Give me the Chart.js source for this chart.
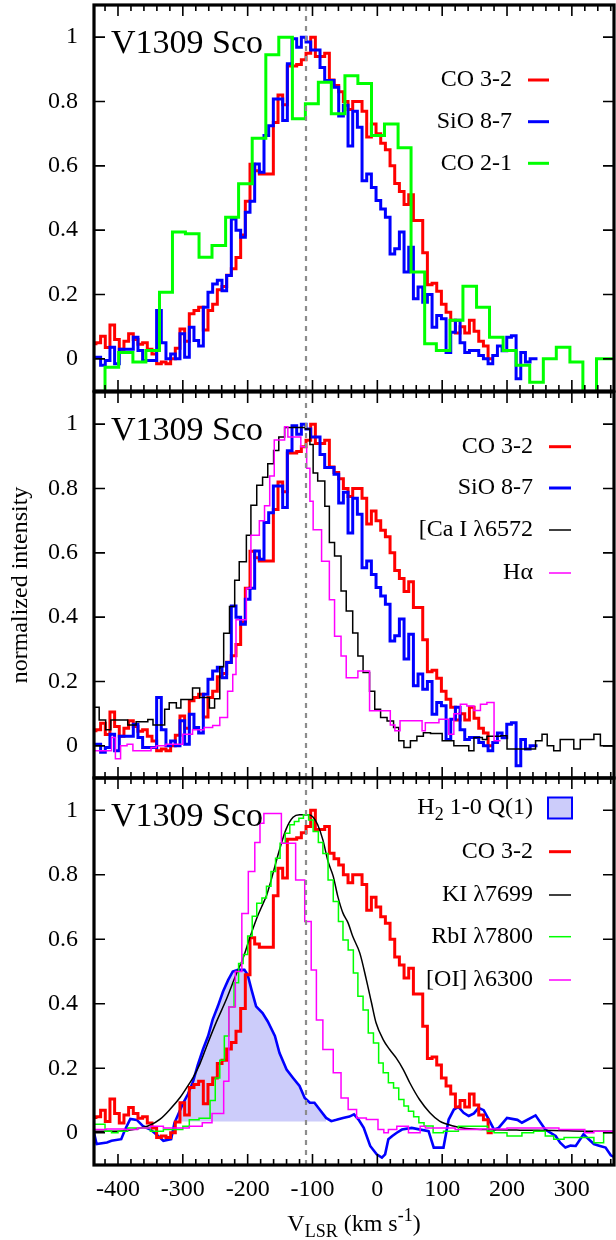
<!DOCTYPE html>
<html>
<head>
<meta charset="utf-8">
<script src="https://cdn.jsdelivr.net/npm/chart.js@4.4.1/dist/chart.umd.min.js"></script>
<style>
html,body{margin:0;padding:0;background:#ffffff;}
#wrap{position:relative;width:616px;height:1240px;overflow:hidden;background:#fff;}
#wrap canvas{position:absolute;left:0;}
</style>
</head>
<body>
<div id="wrap">
<canvas id="p1" width="616" height="396" style="top:0px;width:616px;height:396px"></canvas>
<canvas id="p2" width="616" height="396" style="top:387px;width:616px;height:396px"></canvas>
<canvas id="p3" width="616" height="467" style="top:773px;width:616px;height:467px"></canvas>
</div>
<script>
// ---------------- axes / labels ----------------
const vRange = [-437, 365];
const iRange = [-0.1, 1.1];
const xTickVals = [-400, -300, -200, -100, 0, 100, 200, 300];
const xTickLabels = ['-400', '-300', '-200', '-100', '0', '100', '200', '300'];
const yTickVals = [0, 0.2, 0.4, 0.6, 0.8, 1];
const yTickLabels = ['0', '0.2', '0.4', '0.6', '0.8', '1'];
const systemicV = [-110];
const targetName = 'V1309 Sco';
const yAxisTitle = 'normalized intensity';
const xTitleParts = ['V', 'LSR', ' (km s', '-1', ')'];
const panel1Names = ['CO 3-2', 'SiO 8-7', 'CO 2-1'];
const panel2Names = ['CO 3-2', 'SiO 8-7', '[Ca I \u03bb6572', 'H\u03b1'];
const panel3Names = [['H', '2', ' 1-0 Q(1)'], 'CO 3-2', 'KI \u03bb7699', 'RbI \u03bb7800', '[OI] \u03bb6300'];
const h2Base = [0.035];
const h2FillRange = [-310, -75];

// ---------------- series: [velocity (left bin edge or sample), normalized intensity] ----------------
const co32 = [[-441.2,0.04],[-434,0.047],[-426.8,0.05],[-419.6,0.07],[-412.4,0.035],[-405.2,0.105],[-398,0.06],[-390.8,0.03],[-383.6,0.055],[-376.4,0.078],[-369.2,0.06],[-362,0.045],[-354.8,0.05],[-347.6,0.03],[-340.4,0.015],[-333.2,-0.015],[-326,-0.01],[-318.8,-0.015],[-311.6,0.0],[-304.4,0.033],[-297.2,0.093],[-290,0.055],[-282.8,0.14],[-275.6,0.15],[-268.4,0.16],[-261.2,0.09],[-254,0.15],[-246.8,0.17],[-239.6,0.215],[-232.4,0.225],[-225.2,0.26],[-218,0.28],[-210.8,0.315],[-203.6,0.385],[-196.4,0.49],[-189.2,0.605],[-182,0.585],[-174.8,0.575],[-167.6,0.575],[-160.4,0.575],[-153.2,0.735],[-146,0.82],[-138.8,0.79],[-131.6,0.91],[-124.4,0.91],[-117.2,0.915],[-110,0.93],[-102.8,0.95],[-95.6,1.0],[-88.4,0.94],[-81.2,0.94],[-74,0.95],[-66.8,0.867],[-59.6,0.85],[-52.4,0.83],[-45.2,0.80],[-38,0.775],[-30.8,0.80],[-23.6,0.80],[-16.4,0.77],[-9.2,0.69],[-2,0.73],[5.2,0.70],[12.4,0.67],[19.6,0.65],[26.8,0.60],[34,0.545],[41.2,0.52],[48.4,0.48],[55.6,0.51],[62.8,0.43],[70,0.43],[77.2,0.33],[84.4,0.23],[91.6,0.235],[98.8,0.21],[106,0.17],[113.2,0.145],[120.4,0.12],[127.6,0.08],[134.8,0.10],[142,0.08],[149.2,0.12],[156.4,0.086],[163.6,0.055],[170.8,0.04],[178,0.0]];

const sio87 = [[-441.2,0.04],[-434,0.005],[-426.8,0.005],[-419.6,-0.02],[-412.4,-0.005],[-405.2,0.036],[-398,-0.015],[-390.8,0.03],[-383.6,0.03],[-376.4,0.03],[-369.2,0.067],[-362,0.026],[-354.8,-0.005],[-347.6,-0.005],[-340.4,-0.005],[-333.2,0.15],[-326,0.05],[-318.8,0.0],[-311.6,0.015],[-304.4,0.0],[-297.2,0.078],[-290,0.005],[-282.8,0.098],[-275.6,0.057],[-268.4,0.04],[-261.2,0.16],[-254,0.207],[-246.8,0.233],[-239.6,0.244],[-232.4,0.212],[-225.2,0.259],[-218,0.435],[-210.8,0.40],[-203.6,0.378],[-196.4,0.456],[-189.2,0.49],[-182,0.606],[-174.8,0.58],[-167.6,0.694],[-160.4,0.725],[-153.2,0.808],[-146,0.808],[-138.8,0.741],[-131.6,0.917],[-124.4,0.995],[-117.2,0.969],[-110,1.0],[-102.8,0.985],[-95.6,0.96],[-88.4,0.96],[-81.2,0.906],[-74,0.865],[-66.8,0.865],[-59.6,0.844],[-52.4,0.755],[-45.2,0.788],[-38,0.662],[-30.8,0.77],[-23.6,0.72],[-16.4,0.554],[-9.2,0.575],[-2,0.533],[5.2,0.492],[12.4,0.466],[19.6,0.44],[26.8,0.326],[34,0.342],[41.2,0.394],[48.4,0.27],[55.6,0.347],[62.8,0.187],[70,0.223],[77.2,0.176],[84.4,0.2],[91.6,0.098],[98.8,0.135],[106,0.125],[113.2,0.02],[120.4,0.083],[127.6,0.12],[134.8,0.05],[142,0.02],[149.2,0.026],[156.4,0.026],[163.6,0.01],[170.8,0.0],[178,-0.015],[185.2,0.01],[192.4,0.04],[199.6,0.025],[206.8,0.067],[214,0.072],[221.2,-0.062],[228.4,0.02],[235.6,-0.01],[242.8,0.0],[247,0.0]];

const co21 = [[-420,-0.3],[-399,-0.026],[-377,0.02],[-357,-0.01],[-336,0.026],[-316,0.207],[-296,0.394],[-275,0.389],[-255,0.316],[-234,0.352],[-214,0.44],[-193,0.544],[-172,0.686],[-152,0.945],[-131,1.0],[-111,0.746],[-91,0.793],[-71,0.86],[-50,0.762],[-30,0.88],[-9,0.856],[11,0.694],[32,0.73],[52,0.656],[73,0.27],[91,0.047],[112,0.026],[132,0.12],[153,0.226],[173,0.16],[194,0.067],[214,0.026],[235,-0.02],[256,-0.073],[276,0.0],[297,0.036],[317,-0.01],[338,-0.3],[357,0.0],[380,0.0]];

const caI6572 = [[-438,0.166],[-429,0.12],[-419,0.08],[-411,0.05],[-385,0.08],[-372,0.065],[-354,0.075],[-346,0.082],[-328,0.065],[-321,0.114],[-310,0.134],[-303,0.118],[-285,0.144],[-274,0.18],[-259,0.15],[-251,0.118],[-243,0.146],[-237,0.246],[-228,0.35],[-220,0.433],[-213,0.515],[-202,0.572],[-195,0.655],[-186,0.748],[-177,0.81],[-169,0.835],[-160,0.877],[-152,0.918],[-143,0.96],[-136,0.99],[-111,0.99],[-104,0.985],[-99,0.937],[-92,0.848],[-81,0.823],[-74,0.745],[-66,0.632],[-56,0.59],[-48,0.481],[-38,0.419],[-30,0.351],[-22,0.279],[-12,0.228],[-4,0.17],[5,0.114],[15,0.088],[25,0.077],[33,0.057],[41,0.016],[51,-0.005],[61,0.016],[71,0.03],[82,0.041],[100,0.038],[118,0.016],[141,0.0],[149,-0.015],[162,0.026],[169,0.02],[190,0.03],[200,0.031],[216,-0.01],[244,-0.01],[254,0.016],[262,0.036],[272,0.0],[282,-0.015],[303,0.02],[313,-0.01],[334,0.02],[344,0.036],[362,0.0],[366,0.0]];

const hAlpha = [[-438,-0.02],[-410,-0.015],[-404,0.026],[-396,-0.04],[-386,0.0],[-377,0.005],[-349,-0.015],[-341,-0.005],[-326,0.0],[-300,0.005],[-285,0.036],[-267,0.05],[-254,0.057],[-243,0.063],[-231,0.088],[-223,0.17],[-218,0.222],[-202,0.392],[-195,0.49],[-182,0.655],[-174,0.70],[-166,0.746],[-159,0.839],[-143,0.951],[-138,0.992],[-118,0.96],[-109,0.93],[-104,0.863],[-99,0.76],[-86,0.672],[-74,0.574],[-66,0.454],[-56,0.341],[-48,0.279],[-30,0.212],[-12,0.233],[20,0.109],[27,0.065],[35,0.047],[69,0.078],[74,0.047],[95,0.072],[110,0.083],[118,0.036],[128,0.1],[138,0.129],[149,0.124],[159,0.11],[169,0.129],[180,0.135],[190,0.016]];

const h2Q1 = [[-437,0.0],[-433,-0.035],[-417,-0.03],[-410,-0.025],[-395,-0.02],[-389,0.01],[-381,0.043],[-371,0.04],[-361,0.02],[-350,0.01],[-338,-0.01],[-330,-0.025],[-318,-0.02],[-313,0.03],[-308,0.053],[-300,0.09],[-292,0.12],[-284,0.16],[-277,0.21],[-269,0.258],[-261,0.30],[-254,0.351],[-246,0.392],[-238,0.438],[-230,0.474],[-223,0.50],[-215,0.505],[-205,0.505],[-200,0.49],[-194,0.443],[-187,0.392],[-177,0.371],[-169,0.345],[-158,0.30],[-151,0.248],[-140,0.196],[-130,0.17],[-120,0.145],[-112,0.108],[-104,0.093],[-97,0.093],[-89,0.072],[-79,0.046],[-71,0.036],[-63,0.04],[-53,0.046],[-43,0.05],[-36,0.057],[-29,0.041],[-21,0.015],[-11,-0.041],[-1,-0.067],[7,-0.077],[12,-0.067],[17,-0.02],[23,-0.01],[30,0.0],[38,0.01],[53,0.015],[79,0.005],[87,-0.046],[102,-0.046],[110,0.041],[118,0.072],[125,0.08],[133,0.062],[141,0.052],[149,0.06],[156,0.077],[164,0.07],[172,0.041],[180,0.01],[187,0.015],[200,0.046],[216,0.04],[223,0.031],[244,0.054],[259,0.01],[275,-0.01],[282,-0.031],[290,-0.046],[298,-0.04],[306,-0.041],[318,-0.005],[326,-0.02],[334,-0.035],[342,-0.04],[352,-0.046],[360,-0.07],[365,-0.075]];

const kI7699 = [[-437,0.005],[-400,0.005],[-376,0.01],[-350,0.024],[-335,0.042],[-320,0.072],[-304,0.11],[-294,0.14],[-284,0.172],[-274,0.212],[-261,0.28],[-249,0.34],[-233,0.413],[-218,0.49],[-207,0.542],[-197,0.603],[-187,0.66],[-176,0.712],[-171,0.735],[-151,0.877],[-141,0.94],[-130,0.978],[-120,0.986],[-105,0.986],[-99,0.978],[-92,0.955],[-84,0.908],[-76,0.841],[-68,0.795],[-61,0.733],[-53,0.681],[-45,0.65],[-38,0.609],[-27,0.557],[-17,0.475],[-9,0.403],[-2,0.341],[9,0.289],[19,0.258],[29,0.232],[40,0.196],[50,0.155],[65,0.103],[81,0.062],[96,0.036],[117,0.021],[137,0.013],[170,0.01],[220,0.008],[272,0.007],[324,0.005],[366,0.005]];

const rbI7800 = [[-438,0.01],[-420,0.026],[-410,0.005],[-400,0.0],[-385,0.005],[-350,0.015],[-330,0.005],[-300,0.01],[-290,0.02],[-275,0.04],[-258,0.045],[-250,0.1],[-243,0.17],[-236,0.225],[-229,0.3],[-221,0.39],[-214,0.465],[-207,0.525],[-200,0.553],[-193,0.61],[-186,0.671],[-178,0.712],[-171,0.728],[-164,0.764],[-157,0.81],[-150,0.851],[-142,0.898],[-135,0.929],[-128,0.955],[-121,0.965],[-114,0.975],[-106,0.986],[-99,0.97],[-91,0.934],[-84,0.9],[-76,0.866],[-68,0.784],[-60,0.717],[-53,0.655],[-45,0.598],[-37,0.567],[-30,0.495],[-22,0.423],[-14,0.381],[-6,0.309],[2,0.278],[9,0.216],[17,0.186],[25,0.155],[33,0.139],[41,0.103],[48,0.083],[56,0.067],[64,0.05],[72,0.031],[86,0.021],[102,0.0],[125,0.005],[170,0.02],[180,0.005],[200,0.0],[223,-0.01],[241,0.0],[259,0.005],[272,-0.01],[288,-0.02],[334,-0.015],[349,-0.031],[360,0.0],[366,0.0]];

const oI6300 = [[-438,0.02],[-418,0.01],[-390,0.012],[-370,0.01],[-350,0.015],[-330,0.02],[-310,0.015],[-290,0.015],[-270,0.02],[-255,0.031],[-237,0.06],[-229,0.16],[-219,0.39],[-209,0.5],[-199,0.68],[-189,0.81],[-181,0.9],[-175,0.96],[-168,0.99],[-148,0.99],[-126,0.898],[-112,0.784],[-102,0.655],[-94,0.505],[-84,0.35],[-68,0.258],[-56,0.186],[-45,0.108],[-32,0.072],[-17,0.046],[1,0.041],[10,0.01],[17,0.0],[30,0.01],[48,0.02],[66,0.0],[74,0.02],[87,0.015],[120,0.015],[160,0.01],[200,0.012],[240,0.015],[280,0.015],[320,0.01],[334,0.0],[350,0.005],[366,0.005]];

// ---------------- styles ----------------
const SERIF = "'Liberation Serif','Times New Roman',Times,serif";
const RED = '#ff0000', BLUE = '#0000ff', GREEN = '#00ff00', MAG = '#ff00ff', BLK = '#000000';
const H2FILL = 'rgb(204,204,250)';
const THICK = 3, THIN = 1.5;

Chart.defaults.font.family = SERIF;
Chart.defaults.color = '#000';

function pts(arr) { return arr.map(p => ({x: p[0], y: p[1]})); }
function stepDS(arr, color, width, order) {
  return {data: pts(arr), borderColor: color, borderWidth: width, stepped: 'after', pointRadius: 0, fill: false, order: order};
}
function lineDS(arr, color, width, order, smooth) {
  return {data: pts(arr), borderColor: color, borderWidth: width, pointRadius: 0, fill: false, order: order,
          tension: smooth ? 0.4 : 0, cubicInterpolationMode: smooth ? 'monotone' : 'default'};
}

// ---------------- decoration plugin (frame, inward ticks, labels, legend) ----------------
const xMinor = [];
for (let v = -420; v <= 360; v += 20) { if (xTickVals.indexOf(v) < 0) xMinor.push(v); }

function drawSubText(ctx, parts, xRight, y, size) {
  const small = Math.round(size * 0.75);
  ctx.font = size + 'px ' + SERIF;
  const w0 = ctx.measureText(parts[0]).width;
  const w2 = ctx.measureText(parts[2]).width;
  ctx.font = small + 'px ' + SERIF;
  const w1 = ctx.measureText(parts[1]).width;
  let x = xRight - (w0 + w1 + w2);
  ctx.textAlign = 'left';
  ctx.font = size + 'px ' + SERIF; ctx.fillText(parts[0], x, y); x += w0;
  ctx.font = small + 'px ' + SERIF; ctx.fillText(parts[1], x, y + 7); x += w1;
  ctx.font = size + 'px ' + SERIF; ctx.fillText(parts[2], x, y);
}

const decoPlugin = {
  id: 'deco',
  afterDatasetsDraw(chart) {
    const {ctx, chartArea: a, scales: {x}} = chart;
    ctx.save();
    ctx.beginPath(); ctx.rect(a.left, a.top, a.right - a.left, a.bottom - a.top); ctx.clip();
    ctx.strokeStyle = '#8c8c8c'; ctx.lineWidth = 2.2; ctx.setLineDash([5, 5]);
    systemicV.forEach(v => {
      const px = Math.round(x.getPixelForValue(v));
      ctx.beginPath(); ctx.moveTo(px, a.bottom); ctx.lineTo(px, a.top); ctx.stroke();
    });
    ctx.restore();
  },
  afterDraw(chart, args, o) {
    const {ctx, chartArea: a, scales: {x, y}} = chart;
    ctx.save();
    ctx.strokeStyle = '#000'; ctx.lineWidth = 1.6; ctx.setLineDash([]);
    ctx.beginPath();
    xMinor.forEach(v => {
      const px = x.getPixelForValue(v);
      if (px <= a.left || px >= a.right) return;
      ctx.moveTo(px, a.bottom); ctx.lineTo(px, a.bottom - 6);
      ctx.moveTo(px, a.top); ctx.lineTo(px, a.top + 6);
    });
    xTickVals.forEach(v => {
      const px = x.getPixelForValue(v);
      ctx.moveTo(px, a.bottom); ctx.lineTo(px, a.bottom - 11);
      ctx.moveTo(px, a.top); ctx.lineTo(px, a.top + 11);
    });
    yTickVals.forEach(v => {
      const py = y.getPixelForValue(v);
      ctx.moveTo(a.left, py); ctx.lineTo(a.left + 11, py);
      ctx.moveTo(a.right, py); ctx.lineTo(a.right - 11, py);
    });
    ctx.stroke();
    ctx.lineWidth = 3.2;
    ctx.strokeRect(a.left, a.top, a.right - a.left, a.bottom - a.top);
    ctx.fillStyle = '#000';
    ctx.font = '34px ' + SERIF; ctx.textAlign = 'left'; ctx.textBaseline = 'middle';
    ctx.fillText(targetName, a.left + 17, a.top + 39);
    const L = o.legend;
    ctx.textBaseline = 'middle';
    L.items.forEach((it, i) => {
      const ry = a.top + L.rows[i];
      ctx.fillStyle = '#000';
      if (Array.isArray(it.name)) {
        drawSubText(ctx, it.name, L.textRight, ry, 24);
      } else {
        ctx.font = '24px ' + SERIF; ctx.textAlign = 'right';
        ctx.fillText(it.name, L.textRight, ry);
      }
      if (it.box) {
        ctx.fillStyle = H2FILL;
        ctx.fillRect(L.sample[0] - 1, ry - 10.5, L.sample[1] - L.sample[0] + 2, 21);
        ctx.strokeStyle = it.color; ctx.lineWidth = 2;
        ctx.strokeRect(L.sample[0] - 1, ry - 10.5, L.sample[1] - L.sample[0] + 2, 21);
      } else {
        ctx.strokeStyle = it.color; ctx.lineWidth = it.width;
        ctx.beginPath(); ctx.moveTo(L.sample[0], ry); ctx.lineTo(L.sample[1], ry); ctx.stroke();
      }
    });
    if (o.xTitle) {
      const big = '24px ' + SERIF, small = '18px ' + SERIF;
      ctx.font = big; const w0 = ctx.measureText(xTitleParts[0]).width;
      const w2 = ctx.measureText(xTitleParts[2]).width;
      const w4 = ctx.measureText(xTitleParts[4]).width;
      ctx.font = small; const w1 = ctx.measureText(xTitleParts[1]).width;
      const w3 = ctx.measureText(xTitleParts[3]).width;
      const total = w0 + w1 + w2 + w3 + w4;
      let tx = (a.left + a.right) / 2 - total / 2;
      const base = a.bottom + 66;
      ctx.textAlign = 'left'; ctx.textBaseline = 'alphabetic'; ctx.fillStyle = '#000';
      ctx.font = big; ctx.fillText(xTitleParts[0], tx, base); tx += w0;
      ctx.font = small; ctx.fillText(xTitleParts[1], tx, base + 6); tx += w1;
      ctx.font = big; ctx.fillText(xTitleParts[2], tx, base); tx += w2;
      ctx.font = small; ctx.fillText(xTitleParts[3], tx, base - 10); tx += w3;
      ctx.font = big; ctx.fillText(xTitleParts[4], tx, base);
    }
    ctx.restore();
  }
};

function zeroPad(s) { s.paddingTop = 0; s.paddingBottom = 0; s.paddingLeft = 0; s.paddingRight = 0; }

function makeChart(id, datasets, deco, opts) {
  return new Chart(document.getElementById(id), {
    type: 'line',
    data: {datasets: datasets},
    options: {
      responsive: false, animation: false, devicePixelRatio: 1, events: [],
      layout: {padding: {top: 5, right: 2, bottom: opts.padBottom, left: 0}},
      plugins: {legend: {display: false}, tooltip: {enabled: false}, deco: deco},
      scales: {
        x: {
          type: 'linear', min: vRange[0], max: vRange[1], display: opts.showX,
          grid: {display: false, drawTicks: false}, border: {display: false},
          afterBuildTicks: s => { s.ticks = xTickVals.map(v => ({value: v})); },
          afterFit: s => { s.height = opts.xHeight; zeroPad(s); },
          ticks: {font: {size: 24, family: SERIF}, color: '#000', padding: 10, maxRotation: 0, minRotation: 0,
                  autoSkip: false, callback: (v, i) => xTickLabels[i]}
        },
        y: {
          type: 'linear', min: iRange[0], max: iRange[1],
          grid: {display: false, drawTicks: false}, border: {display: false},
          afterBuildTicks: s => { s.ticks = yTickVals.map(v => ({value: v})); },
          afterFit: s => { s.width = 94; zeroPad(s); },
          ticks: {font: {size: 24, family: SERIF}, color: '#000', padding: 16, callback: (v, i) => yTickLabels[i]},
          title: {display: opts.yTitle, text: yAxisTitle, font: {size: 24, family: SERIF}, color: '#000', padding: {top: 6, bottom: 0}}
        }
      }
    },
    plugins: [decoPlugin]
  });
}

makeChart('p1', [
  stepDS(co32, RED, THICK, 3),
  stepDS(sio87, BLUE, THICK, 2),
  stepDS(co21, GREEN, THICK, 1)
], {
  legend: {textRight: 512, sample: [528, 549], rows: [75, 116.7, 158.3],
    items: [{name: panel1Names[0], color: RED, width: THICK},
            {name: panel1Names[1], color: BLUE, width: THICK},
            {name: panel1Names[2], color: GREEN, width: THICK}]}
}, {showX: false, padBottom: 5, xHeight: 0, yTitle: false});

makeChart('p2', [
  stepDS(co32, RED, THICK, 4),
  stepDS(sio87, BLUE, THICK, 3),
  stepDS(caI6572, BLK, THIN, 2),
  stepDS(hAlpha, MAG, THIN, 1)
], {
  legend: {textRight: 533, sample: [549, 571], rows: [54.7, 96, 138, 181],
    items: [{name: panel2Names[0], color: RED, width: THICK},
            {name: panel2Names[1], color: BLUE, width: THICK},
            {name: panel2Names[2], color: BLK, width: THIN},
            {name: panel2Names[3], color: MAG, width: THIN}]}
}, {showX: false, padBottom: 5, xHeight: 0, yTitle: true});

const h2Fill = h2Q1.filter(p => p[0] >= h2FillRange[0] && p[0] <= h2FillRange[1]);
makeChart('p3', [
  {data: pts(h2Fill), borderWidth: 0, borderColor: 'rgba(0,0,0,0)', backgroundColor: H2FILL,
   fill: {value: h2Base[0]}, pointRadius: 0, order: 7},
  lineDS(h2Q1, BLUE, 2.6, 6, false),
  stepDS(co32, RED, THICK, 5),
  lineDS(kI7699, BLK, THIN, 4, true),
  stepDS(rbI7800, GREEN, THIN, 3),
  stepDS(oI6300, MAG, THIN, 2)
], {
  xTitle: true,
  legend: {textRight: 533, sample: [549, 571], rows: [30, 73.7, 117, 158.7, 202],
    items: [{name: panel3Names[0], color: BLUE, box: true},
            {name: panel3Names[1], color: RED, width: THICK},
            {name: panel3Names[2], color: BLK, width: THIN},
            {name: panel3Names[3], color: GREEN, width: THIN},
            {name: panel3Names[4], color: MAG, width: THIN}]}
}, {showX: true, padBottom: 0, xHeight: 75, yTitle: false});
</script>
</body>
</html>
